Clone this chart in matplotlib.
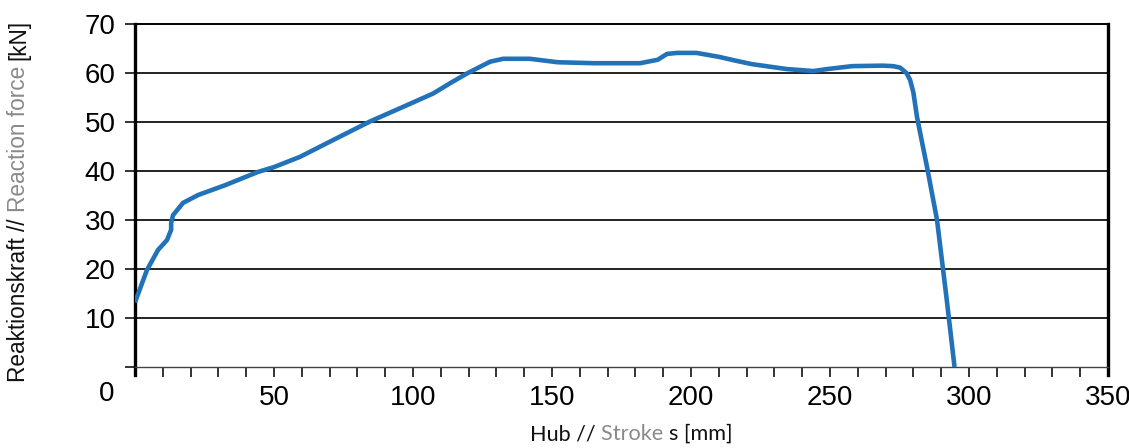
import matplotlib
matplotlib.use('Agg')
from matplotlib import pyplot as plt
from matplotlib.ticker import MultipleLocator

# Hub // Stroke s [mm]
stroke = [0, 4.3, 8.3, 11.5, 13, 13, 13.7, 17.3, 22.7, 32.4, 44.2, 50, 59.4, 71.2, 84.5, 95.3,
          107.2, 113.3, 119.4, 127.7, 132.4, 142, 152, 165, 181.7, 188, 191.4, 195, 202,
          210, 217, 222, 234.5, 244, 249, 258, 269, 272.7, 275.2, 277.5, 278.8, 280, 281.3,
          284.9, 288.5, 292, 294.8]
# Reaktionskraft // Reaction force [kN]
force = [13.2, 19.8, 23.9, 25.9, 28, 29.4, 31, 33.5, 35.1, 37.1, 39.8, 40.8, 42.9, 46.3, 50.1, 52.8,
         55.8, 57.9, 59.9, 62.3, 62.9, 62.9, 62.2, 62, 62, 62.7, 63.9, 64.1, 64.1,
         63.3, 62.4, 61.8, 60.8, 60.4, 60.8, 61.4, 61.5, 61.4, 61.1, 60.0, 58.6, 56, 51,
         40.8, 30, 13.7, 0]

x_ticks = [50, 100, 150, 200, 250, 300, 350]
y_ticks = [10, 20, 30, 40, 50, 60, 70]

W, H = 1129, 448
fig = plt.figure(figsize=(W / 100, H / 100), dpi=100)
ax = fig.add_axes([135 / W, 1 - 367 / H, (1108 - 135) / W, (367 - 24) / H])

ax.plot(stroke, force, color='#2272b9', lw=3.3, solid_joinstyle='round', solid_capstyle='butt', zorder=3)

ax.set_xlim(0, 350)
ax.set_ylim(0, 70)
ax.set_xticks(x_ticks)
ax.set_xticklabels([str(v) for v in x_ticks])
ax.xaxis.set_minor_locator(MultipleLocator(10))
ax.set_yticks([0] + y_ticks)
ax.set_yticklabels([''] + [str(v) for v in y_ticks])

for yv in y_ticks[:-1]:
    ax.axhline(yv, color='#111111', lw=1.3, zorder=1)

ax.tick_params(axis='both', which='both', direction='out', length=7, width=1.2, color='#111111',
               labelsize=20)
ax.tick_params(axis='x', which='major', pad=6)
ax.tick_params(axis='y', pad=7)
for lab in ax.get_xticklabels() + ax.get_yticklabels():
    lab.set_family('Liberation Sans')

ax.spines['top'].set_linewidth(1.4)
ax.spines['bottom'].set_linewidth(1.0)
ax.spines['bottom'].set_color('#444444')
for side in ['left', 'right']:
    ax.spines[side].set_linewidth(2.4)
    ax.spines[side].set_bounds(-1.6, 70)

fig.text(107 / W, 1 - 394 / H, '0', ha='center', va='center', fontsize=20, family='Liberation Sans')

renderer = fig.canvas.get_renderer()


def multicolor(x, y, parts, rotation=0, **kw):
    for s, c in parts:
        t = fig.text(x, y, s, color=c, rotation=rotation, rotation_mode='anchor', **kw)
        bb = t.get_window_extent(renderer)
        if rotation:
            y += bb.height / H
        else:
            x += bb.width / W


multicolor(530 / W, 1 - 440 / H,
           [('Hub // ', '#111111'), ('Stroke ', '#8a8a8a'), ('s [mm]', '#111111')],
           fontsize=15.6, family='Lato', va='baseline', ha='left')

multicolor(25 / W, 1 - 382 / H,
           [('Reaktionskraft // ', '#111111'), ('Reaction force ', '#8a8a8a'), ('[kN]', '#111111')],
           rotation=90, fontsize=16.3, family='Liberation Sans', va='baseline', ha='left')

fig.savefig('out.png', dpi=100)
